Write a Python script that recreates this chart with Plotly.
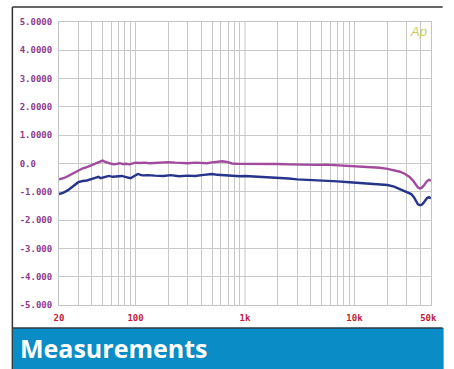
import plotly.graph_objects as go

# ---- data ----
freq_purple = [20, 22, 24, 26, 28, 30, 33, 36, 40, 44, 48, 50, 53, 56, 60, 64, 68, 72, 76, 82, 88, 95,
               100, 110, 120, 135, 150, 170, 200, 230, 260, 300, 350, 400, 450, 500, 560, 620, 700, 760,
               850, 1000, 1200, 1400, 1600, 2000, 2500, 3000, 3500, 4500, 5500, 7000, 9000, 11000, 14000,
               17000, 20000, 23000, 26000, 29000, 32000, 34500, 36500, 38000, 39500, 41000, 42500, 44000,
               46000, 48000, 50000]
level_purple = [-0.56, -0.52, -0.45, -0.38, -0.30, -0.24, -0.17, -0.13, -0.06, 0.02, 0.08, 0.10, 0.06, 0.02,
                -0.01, -0.03, 0.00, 0.01, -0.02, -0.01, -0.03, 0.00, 0.03, 0.02, 0.03, 0.01, 0.02, 0.04, 0.05,
                0.03, 0.02, 0.01, 0.03, 0.02, 0.01, 0.04, 0.06, 0.08, 0.05, 0.00, -0.01, -0.01, 0.00, -0.01,
                0.00, -0.02, -0.03, -0.04, -0.06, -0.05, -0.04, -0.06, -0.08, -0.09, -0.12, -0.15, -0.19,
                -0.23, -0.29, -0.37, -0.48, -0.62, -0.76, -0.85, -0.88, -0.86, -0.80, -0.70, -0.62, -0.58, -0.61]

freq_blue = [20, 22, 24, 26, 28, 30, 33, 36, 40, 43, 46, 48, 50, 54, 57, 62, 68, 75, 82, 90, 95, 105, 115,
             130, 150, 180, 210, 250, 300, 350, 420, 500, 560, 650, 750, 900, 1000, 1300, 1600, 2000, 2500,
             3000, 3500, 4500, 5500, 7000, 9000, 11000, 14000, 17000, 20000, 23000, 27000, 30000, 33000,
             35000, 36500, 38000, 39500, 41000, 42500, 44000, 46000, 48000, 50000]
level_blue = [-1.08, -1.03, -0.95, -0.85, -0.74, -0.66, -0.62, -0.60, -0.54, -0.50, -0.47, -0.52, -0.50,
              -0.46, -0.44, -0.47, -0.46, -0.44, -0.48, -0.52, -0.47, -0.37, -0.42, -0.41, -0.43, -0.44,
              -0.41, -0.45, -0.43, -0.44, -0.40, -0.37, -0.40, -0.42, -0.44, -0.45, -0.44, -0.46, -0.47,
              -0.50, -0.53, -0.56, -0.57, -0.59, -0.61, -0.63, -0.66, -0.68, -0.71, -0.74, -0.76, -0.82,
              -0.93, -1.00, -1.08, -1.20, -1.35, -1.44, -1.47, -1.46, -1.40, -1.30, -1.22, -1.19, -1.23]

x_tickvals = [20, 100, 1000, 10000, 50000]
x_ticktext = ["20", "100", "1k", "10k", "50k\u00a0"]
y_tickvals = [5, 4, 3, 2, 1, 0, -1, -2, -3, -4, -5]
y_ticktext = ["5.0000", "4.0000", "3.0000", "2.0000", "1.0000", "0.0\u00a0\u00a0\u00a0",
              "-1.000", "-2.000", "-3.000", "-4.000", "-5.000"]
minor_grid = [m * 10 ** d for d in range(1, 5) for m in range(2, 10) if 20 <= m * 10 ** d <= 50000]

# ---- layout geometry (pixels) ----
W, H = 454, 369
L, R, T, B = 59, 442, 22, 305


def px(x):
    return (x - L) / (R - L)


def py(y):
    return (B - y) / (B - T)


fig = go.Figure()
fig.add_trace(go.Scatter(x=freq_purple, y=level_purple, mode="lines",
                         line=dict(color="#a24a9c", width=2.4), showlegend=False))
fig.add_trace(go.Scatter(x=freq_blue, y=level_blue, mode="lines",
                         line=dict(color="#26348a", width=2.4), showlegend=False))

fig.update_xaxes(type="log", range=[1.30103, 4.69897], tickvals=x_tickvals, ticktext=x_ticktext,
                 showgrid=False, zeroline=False, showline=True, linecolor="#c4c4c4", mirror=True,
                 tickfont=dict(family="DejaVu Sans Mono", size=9, color="#c0203c", weight="bold"),
                 ticks="", ticklabelstandoff=4,
                 minor=dict(tickvals=minor_grid, showgrid=True, gridcolor="#c8c8c8", gridwidth=1))
fig.update_yaxes(range=[-5, 5], tickvals=y_tickvals, ticktext=y_ticktext,
                 showgrid=True, gridcolor="#c8c8c8", gridwidth=1, zeroline=False,
                 showline=True, linecolor="#c4c4c4", mirror=True, ticks="", ticklabelstandoff=4,
                 tickfont=dict(family="DejaVu Sans Mono", size=9, color="#8e3a8e", weight="bold"))

shapes = [
    # major x gridlines
    *[dict(type="line", xref="x", yref="paper", x0=v, x1=v, y0=0, y1=1,
           line=dict(color="#c8c8c8", width=1), layer="below") for v in [100, 1000, 10000]],
    # white box behind logo
    dict(type="rect", xref="paper", yref="paper", x0=px(412), x1=px(441), y0=py(39), y1=py(23),
         fillcolor="white", line=dict(width=0), layer="between"),
    # outer frame
    dict(type="line", xref="paper", yref="paper", x0=px(11), x1=px(454), y0=py(7), y1=py(7),
         line=dict(color="#333333", width=1.5)),
    dict(type="line", xref="paper", yref="paper", x0=px(11), x1=px(11), y0=py(7), y1=py(369),
         line=dict(color="#333333", width=1.5)),
    # banner
    dict(type="rect", xref="paper", yref="paper", x0=px(11.5), x1=px(455), y0=py(370), y1=py(328),
         fillcolor="#0a8cc6", line=dict(width=0)),
    dict(type="line", xref="paper", yref="paper", x0=px(11), x1=px(454), y0=py(328), y1=py(328),
         line=dict(color="#2a3a4a", width=1.5)),
]

annotations = [
    dict(text="Measurements", xref="paper", yref="paper", x=px(17), y=py(348), xanchor="left",
         yanchor="middle", showarrow=False,
         font=dict(family="Open Sans", size=25, color="white", weight="bold")),
    dict(text="<i>Ap</i>", xref="paper", yref="paper", x=px(429), y=py(31), xanchor="center",
         yanchor="middle", showarrow=False,
         font=dict(family="Liberation Sans", size=13, color="#cccc5a")),
]

fig.update_layout(width=W, height=H, margin=dict(l=L, r=W - R, t=T, b=H - B),
                  paper_bgcolor="white", plot_bgcolor="white",
                  shapes=shapes, annotations=annotations)

fig.write_html("out.html", config={"displayModeBar": False},
               post_script="document.body.style.margin='0';document.body.style.padding='0';"
                           "document.body.style.overflow='hidden';")
